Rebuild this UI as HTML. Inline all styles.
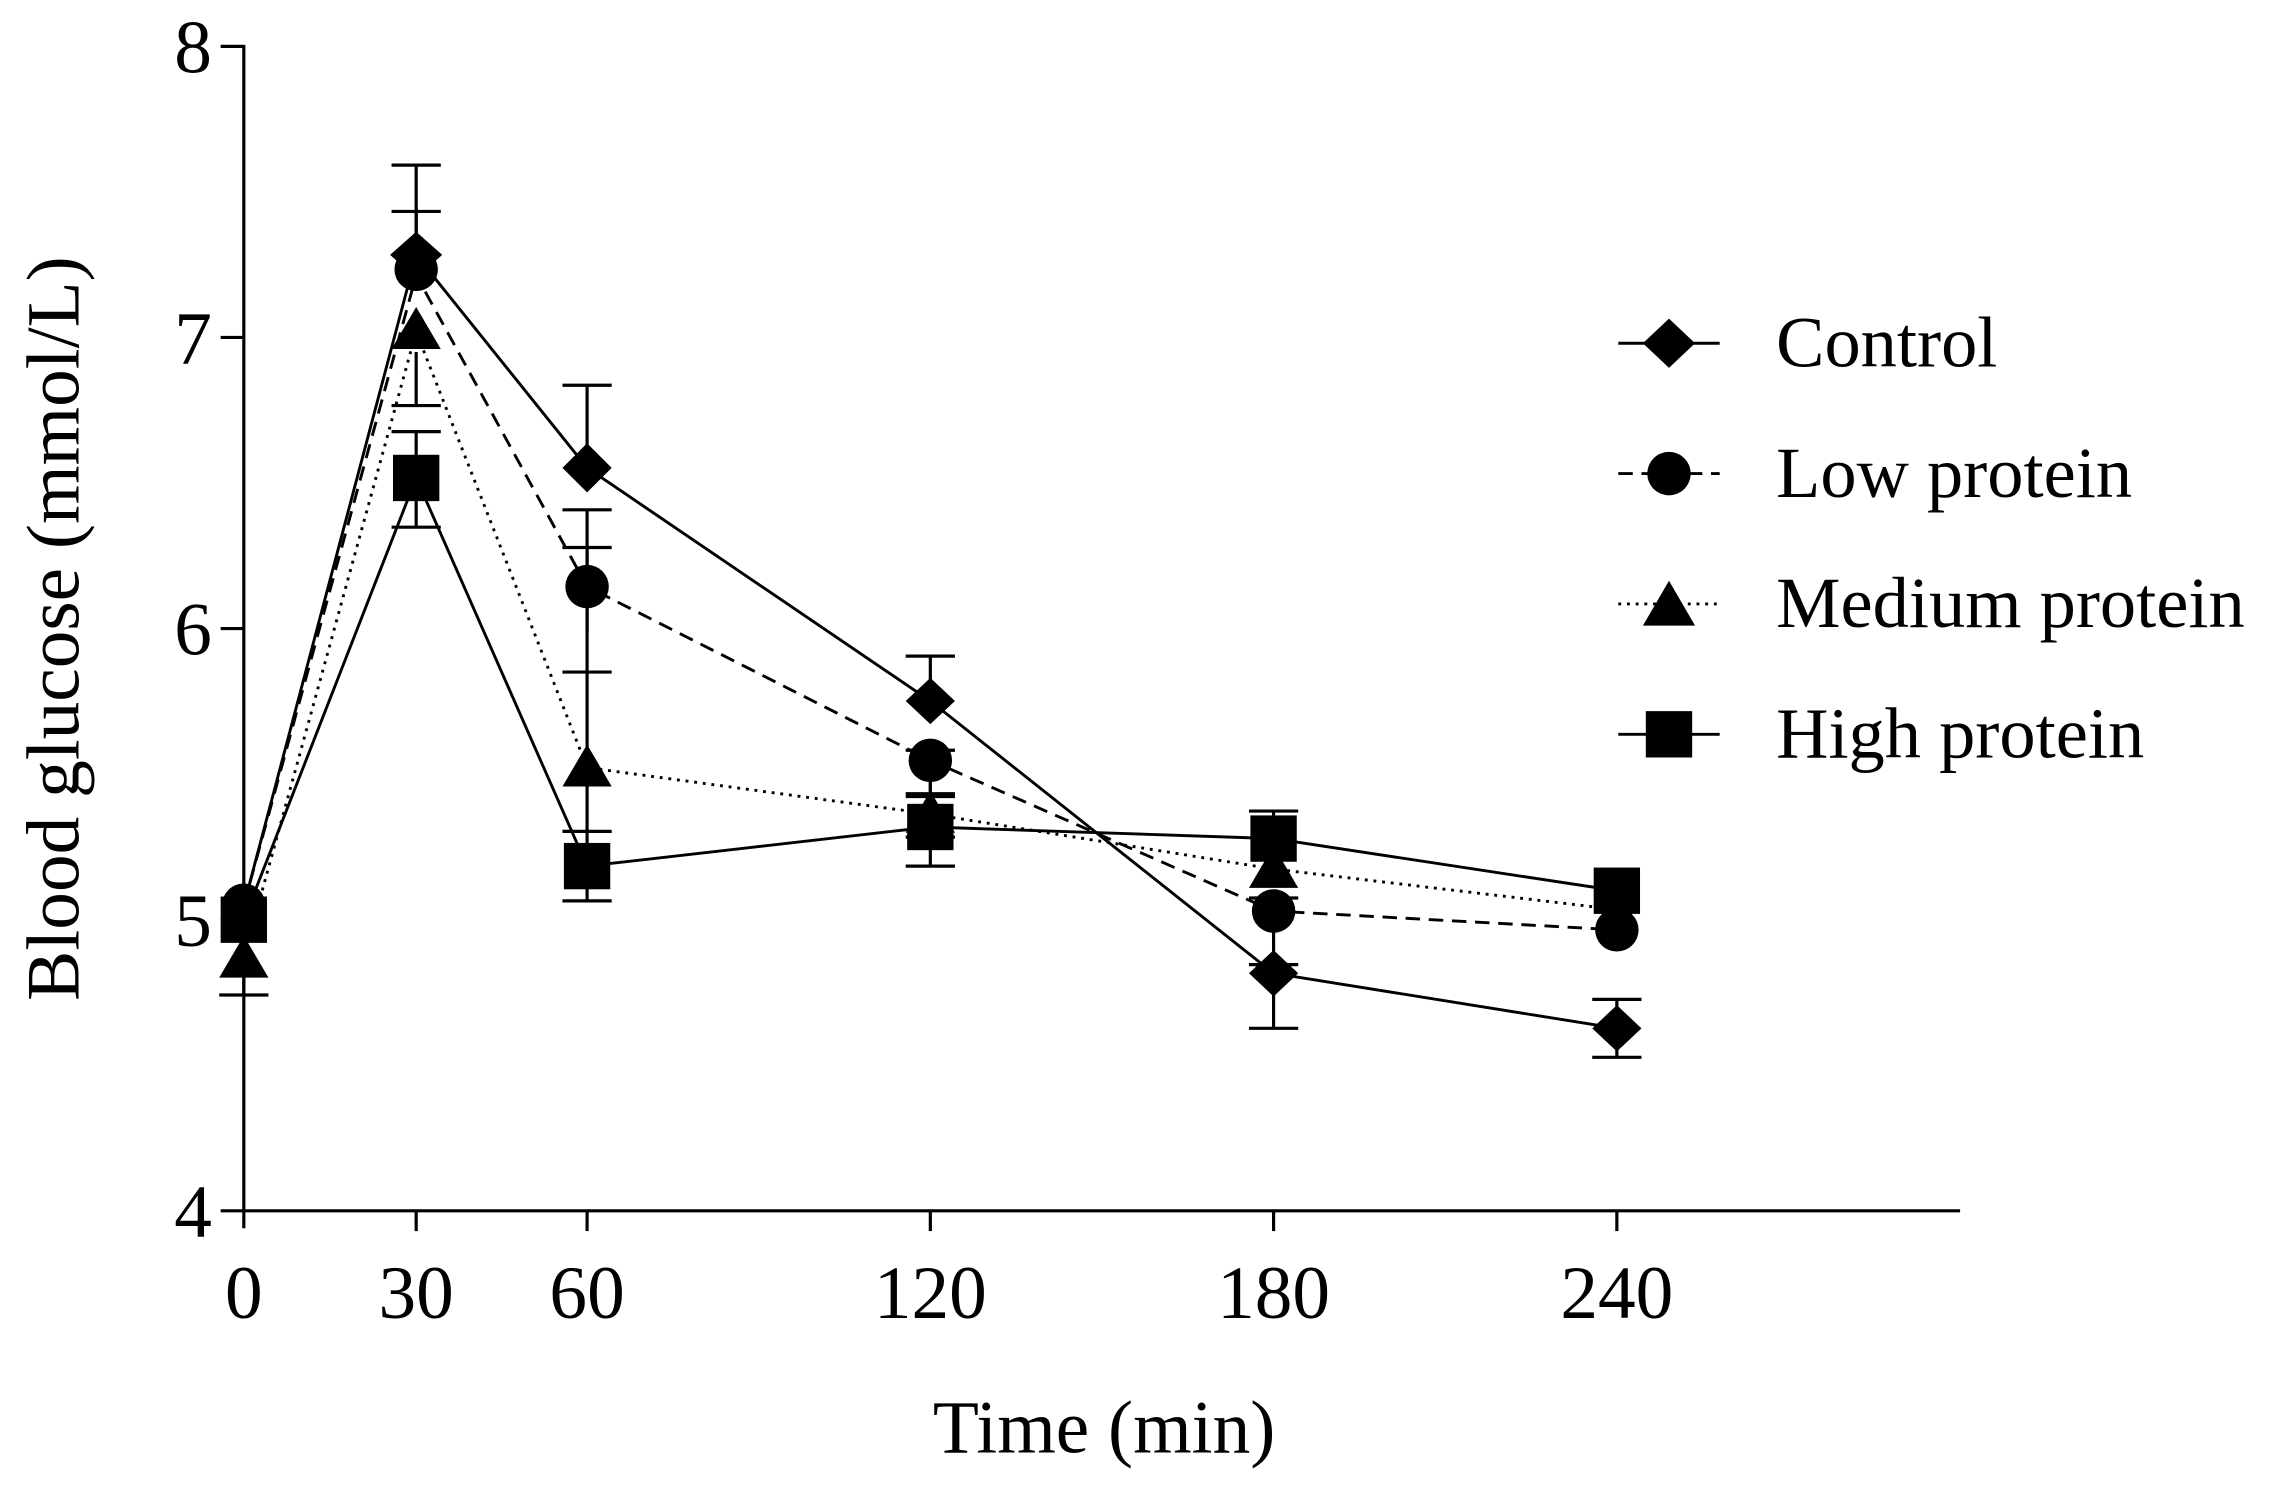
<!DOCTYPE html>
<html><head><meta charset="utf-8"><style>html,body{margin:0;padding:0;background:#fff}svg{display:block}</style></head>
<body>
<svg width="2272" height="1486" viewBox="0 0 1568 1026" xmlns="http://www.w3.org/2000/svg" font-family="Liberation Serif, serif">
<g stroke="#000" stroke-width="2.2" fill="none">
<line x1="168" y1="31" x2="168" y2="848"/>
<line x1="167" y1="836" x2="1353" y2="836"/>
<line x1="152" y1="32" x2="168" y2="32"/>
<line x1="152" y1="233" x2="168" y2="233"/>
<line x1="152" y1="434" x2="168" y2="434"/>
<line x1="152" y1="635" x2="168" y2="635"/>
<line x1="152" y1="836" x2="168" y2="836"/>
<line x1="287" y1="836" x2="287" y2="850"/>
<line x1="405" y1="836" x2="405" y2="850"/>
<line x1="642" y1="836" x2="642" y2="850"/>
<line x1="879" y1="836" x2="879" y2="850"/>
<line x1="1116" y1="836" x2="1116" y2="850"/>
</g>
<g font-size="52" text-anchor="end" fill="#000">
<text x="146" y="50">8</text><text x="146" y="251">7</text><text x="146" y="452">6</text><text x="146" y="653">5</text><text x="146" y="854">4</text>
</g>
<g font-size="52" text-anchor="middle" fill="#000">
<text x="168" y="910">0</text><text x="287" y="910">30</text><text x="405" y="910">60</text><text x="642" y="910">120</text><text x="879" y="910">180</text><text x="1116" y="910">240</text>
<text x="762" y="1003">Time (min)</text>
<text transform="translate(54,434) rotate(-90)">Blood glucose (mmol/L)</text>
</g>
<g stroke="#000" stroke-width="2.2" fill="none">
<path d="M287 114V178M270 114H304 M405 266V320M388 266H422 M642 453V482M625 453H659 M879 710V672M862 710H896 M1116 690V730M1099 690H1133 M1099 730H1133"/>
<path d="M287 146V190M270 146H304 M405 378V436M388 378H422 M642 518V578M625 518H659M625 578H659 M879 620V666M862 620H896M862 666H896"/>
<path d="M168 661V687M151 687H185 M287 243V280M270 280H304 M405 352V575M388 352H422M388 464H422 M642 538V574M625 550H659"/>
<path d="M287 298V364M270 298H304M270 364H304 M405 574V622M388 574H422M388 622H422 M642 548V598M625 548H659M625 598H659 M879 560V576M862 560H896"/>
</g>
<g fill="none" stroke="#000" stroke-width="2">
<polyline points="168,625 287,176 405,323 642,484 879,672 1116,710"/>
<polyline stroke-dasharray="10,6" points="168,625 287,190 405,405 642,525 879,629 1116,642"/>
<polyline stroke-dasharray="2,4" points="168,661 287,229 405,530 642,562 879,600 1116,628"/>
<polyline points="168,635 287,330 405,598 642,571 879,579 1116,615"/>
</g>
<g fill="#000">
<rect x="152" y="619" width="32" height="32"/><rect x="271" y="314" width="32" height="32"/><rect x="389" y="582" width="32" height="32"/><rect x="626" y="555" width="32" height="32"/><rect x="863" y="563" width="32" height="32"/><rect x="1100" y="599" width="32" height="32"/>
<polygon points="168,646 185,675 151,675"/><polygon points="287,212 304,241 270,241"/><polygon points="405,514 422,543 388,543"/><polygon points="642,546 659,575 625,575"/><polygon points="879,584 896,613 862,613"/>
<circle cx="168" cy="625" r="15"/><circle cx="287" cy="186" r="15"/><circle cx="405" cy="405" r="15"/><circle cx="642" cy="525" r="15"/><circle cx="879" cy="629" r="15"/><circle cx="1116" cy="642" r="15"/>
<polygon points="168,609 184,625 168,641 152,625"/><polygon points="287,160 305,176 287,192 269,176"/><polygon points="405,306 422,323 405,340 388,323"/><polygon points="642,468 659,484 642,500 625,484"/><polygon points="879,656 896,672 879,688 862,672"/><polygon points="1116,694 1133,710 1116,726 1099,710"/>
</g>
<g stroke="#000" stroke-width="2" fill="none">
<line x1="1117" y1="237" x2="1187" y2="237"/>
<line x1="1117" y1="327" x2="1187" y2="327" stroke-dasharray="10,6"/>
<line x1="1117" y1="417" x2="1187" y2="417" stroke-dasharray="2,4"/>
<line x1="1117" y1="507" x2="1187" y2="507"/>
</g>
<g fill="#000">
<polygon points="1152,220 1170,237 1152,254 1134,237"/>
<circle cx="1152" cy="327" r="15"/>
<polygon points="1152,401 1170,432 1134,432"/>
<rect x="1136" y="491" width="32" height="32"/>
</g>
<g font-size="50" fill="#000">
<text x="1226" y="253">Control</text>
<text x="1226" y="343">Low protein</text>
<text x="1226" y="433">Medium protein</text>
<text x="1226" y="523">High protein</text>
</g>
</svg>
</body></html>
